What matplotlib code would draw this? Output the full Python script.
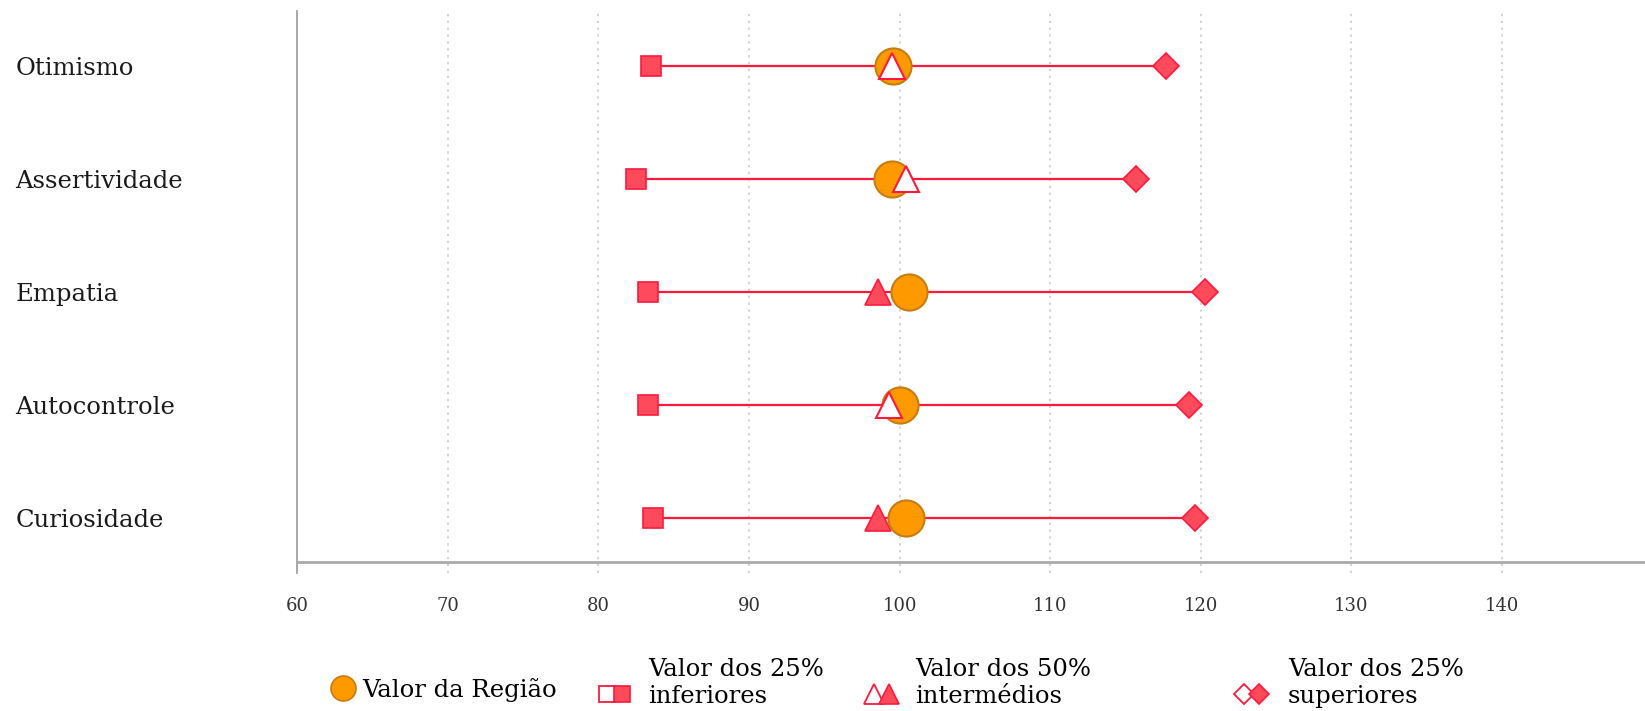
import matplotlib.pyplot as plt
from matplotlib.lines import Line2D
from matplotlib.legend_handler import HandlerTuple
from matplotlib.offsetbox import TextArea
import numpy as np

# Dumbbell chart: region value against the lower / middle / upper quartile groups

categorias = ["Otimismo", "Assertividade", "Empatia", "Autocontrole", "Curiosidade"]
valor_regiao = [99.6, 99.5, 100.6, 100.0, 100.4]
inferiores = [83.5, 82.5, 83.3, 83.3, 83.6]
intermedios = [99.5, 100.4, 98.55, 99.3, 98.55]
superiores = [117.7, 115.7, 120.3, 119.2, 119.6]
intermedio_cheio = [False, False, True, False, True]
xticks = [60, 70, 80, 90, 100, 110, 120, 130, 140]

RED_EDGE = "#ff1a3c"
RED_FILL = "#ff4a5c"
ORANGE = "#ff9900"
ORANGE_EDGE = "#c77c10"
FONT = "DejaVu Serif"
FS = 17.5

plt.rcParams['font.family'] = [FONT]

fig = plt.figure(figsize=(16.45, 7.11), dpi=100)
ax = fig.add_axes([0.1806, 0.2096, 0.8194, 0.7754])

y = np.arange(len(categorias))[::-1]

ax.hlines(y, inferiores, superiores, color=RED_EDGE, lw=1.6, zorder=2)
ax.plot(inferiores, y, 's', ms=15, mfc=RED_FILL, mec=RED_EDGE, mew=1.2, ls='none', zorder=3)
ax.plot(superiores, y, 'D', ms=13.5, mfc=RED_FILL, mec=RED_EDGE, mew=1.2, ls='none', zorder=3)
ax.plot(valor_regiao, y, 'o', ms=26, mfc=ORANGE, mec=ORANGE_EDGE, mew=1.5, ls='none', zorder=4)
for xi, yi, cheio in zip(intermedios, y, intermedio_cheio):
    if cheio:
        ax.plot(xi, yi, '^', ms=19, mfc=RED_FILL, mec=RED_EDGE, mew=1.2, zorder=3.5)
    else:
        ax.plot(xi, yi, '^', ms=19, mfc='white', mec=RED_EDGE, mew=1.5, zorder=5)

ax.set_xlim(60, 149.5)
ax.set_ylim(-0.39, 4.49)
ax.set_xticks(xticks)
ax.set_xticklabels([str(t) for t in xticks], fontsize=13, color='#333333')
ax.set_yticks(y)
ax.set_yticklabels(categorias, fontsize=FS, color='#1a1a1a', ha='left')
ax.tick_params(axis='y', length=0, pad=203)
ax.tick_params(axis='x', length=0, pad=25)

for t in xticks[1:]:
    ax.axvline(t, ymin=-0.02, ymax=1, color='#c8c8c8', lw=1.1, ls=(0, (1.5, 3)),
               clip_on=False, zorder=1)
ax.axvline(60, ymin=-0.02, ymax=1, color='#999999', lw=1.2, clip_on=False, zorder=1)

for s in ['top', 'right', 'left']:
    ax.spines[s].set_visible(False)
ax.spines['bottom'].set_color('#aaaaaa')
ax.spines['bottom'].set_linewidth(2)

# legend, one box per item
def par(marker, ms):
    vazio = Line2D([], [], marker=marker, ms=ms, mfc='white', mec=RED_EDGE, mew=1.3, ls='none')
    cheio = Line2D([], [], marker=marker, ms=ms, mfc=RED_FILL, mec=RED_EDGE, mew=1.2, ls='none')
    return (vazio, cheio)

em = FS * 100 / 72  # pixels per em
circulo = Line2D([], [], marker='o', ms=18, mfc=ORANGE, mec=ORANGE_EDGE, mew=1.2, ls='none')
# (handle, label, text start px, centre y px, handletextpad)
itens = [
    (circulo, "Valor da Região", 362, 690, 0.1),
    (par('s', 11.5), "Valor dos 25%\ninferiores", 648, 683, 0.68),
    (par('^', 14), "Valor dos 50%\nintermédios", 915, 683, 0.68),
    (par('D', 10.5), "Valor dos 25%\nsuperiores", 1288, 683, 0.8),
]
hl = 1.4
for h, txt, tx, yc, tp in itens:
    x0 = tx - (hl + tp) * em
    leg = fig.legend([h], [txt], loc='center left', bbox_to_anchor=(x0 / 1645, 1 - yc / 711),
                     frameon=False, borderpad=0, borderaxespad=0, fontsize=FS,
                     handlelength=hl, handletextpad=tp, labelspacing=0,
                     handler_map={tuple: HandlerTuple(ndivide=None, pad=-4 / em)})
    for ta in leg.findobj(lambda a: isinstance(a, TextArea)):
        ta.set_multilinebaseline(False)

fig.savefig("out.png", dpi=100)
